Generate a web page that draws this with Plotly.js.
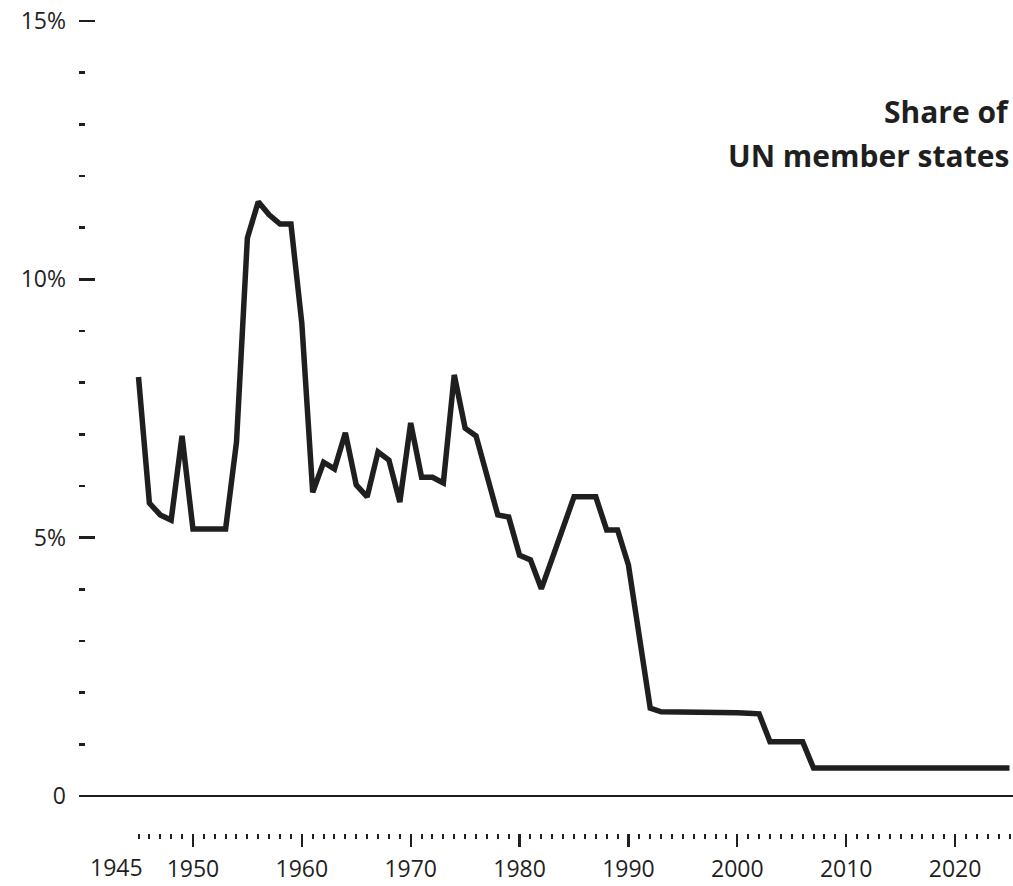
<!DOCTYPE html>
<html>
<head>
<meta charset="utf-8">
<script src="https://cdn.plot.ly/plotly-3.0.1.min.js"></script>
<style>
  html, body { margin: 0; padding: 0; background: #ffffff; }
  #chart { width: 1013px; height: 886px; }
</style>
</head>
<body>
<div id="chart"></div>
<script>
// Years and share (%) of UN member states
const years = [
  1945, 1946, 1947, 1948, 1949, 1950, 1951, 1952, 1953, 1954,
  1955, 1956, 1957, 1958, 1959, 1960, 1961, 1962, 1963, 1964,
  1965, 1966, 1967, 1968, 1969, 1970, 1971, 1972, 1973, 1974,
  1975, 1976, 1977, 1978, 1979, 1980, 1981, 1982, 1983, 1984,
  1985, 1986, 1987, 1988, 1989, 1990, 1991, 1992, 1993, 1994,
  1995, 1996, 1997, 1998, 1999, 2000, 2001, 2002, 2003, 2004,
  2005, 2006, 2007, 2008, 2009, 2010, 2011, 2012, 2013, 2014,
  2015, 2016, 2017, 2018, 2019, 2020, 2021, 2022, 2023, 2024,
  2025
];
const sharePct = [
  8.11, 5.67, 5.44, 5.34, 6.97, 5.17, 5.17, 5.17, 5.17, 6.85,
  10.80, 11.50, 11.25, 11.07, 11.07, 9.15, 5.88, 6.46, 6.33, 7.03,
  6.02, 5.79, 6.66, 6.50, 5.69, 7.22, 6.17, 6.17, 6.06, 8.15,
  7.12, 6.97, 6.19, 5.44, 5.40, 4.66, 4.57, 4.01, 4.60, 5.20,
  5.79, 5.79, 5.79, 5.15, 5.15, 4.47, 3.08, 1.70, 1.63, 1.63,
  1.63, 1.63, 1.63, 1.63, 1.62, 1.61, 1.60, 1.59, 1.05, 1.05,
  1.05, 1.05, 0.54, 0.54, 0.54, 0.54, 0.54, 0.54, 0.54, 0.54,
  0.54, 0.54, 0.54, 0.54, 0.54, 0.54, 0.54, 0.54, 0.54, 0.54,
  0.54
];

// Axis ticks
const xTickVals = [1945, 1950, 1960, 1970, 1980, 1990, 2000, 2010, 2020];
const xTickText = ['', '1950', '1960', '1970', '1980', '1990', '2000', '2010', '2020'];
const firstYearLabel = '1945';
const yTickVals = [0, 5, 10, 15];
const yTickText = ['0', '5%', '10%', '15%'];
const yMinorVals = [1, 2, 3, 4, 6, 7, 8, 9, 11, 12, 13, 14];
const titleLines = ['Share of', 'UN member states'];

const ink = '#1f1f1f';
const font = 'Open Sans, Noto Sans, sans-serif';
const tickSize = 23;

const trace = {
  x: years,
  y: sharePct,
  type: 'scatter',
  mode: 'lines',
  line: { color: ink, width: 5.5 },
  hoverinfo: 'skip'
};

const layout = {
  width: 1013,
  height: 886,
  margin: { l: 79, r: 0, t: 19, b: 53 },
  paper_bgcolor: '#ffffff',
  plot_bgcolor: '#ffffff',
  showlegend: false,
  font: { family: font, color: ink, size: tickSize },
  xaxis: {
    range: [1939.535, 2025.32],
    showgrid: false,
    zeroline: false,
    showline: false,
    tickmode: 'array',
    tickvals: xTickVals,
    ticktext: xTickText,
    ticks: 'outside',
    ticklen: 13,
    tickwidth: 2.2,
    tickcolor: ink,
    ticklabelstandoff: 2,
    tickfont: { family: font, size: tickSize, color: ink },
    minor: { ticks: 'outside', tickmode: 'array', tickvals: years, ticklen: 5, tickwidth: 2, tickcolor: ink, showgrid: false }
  },
  yaxis: {
    range: [-0.716, 15.0387],
    showgrid: false,
    showline: false,
    zeroline: true,
    zerolinecolor: ink,
    zerolinewidth: 2,
    tickmode: 'array',
    tickvals: yTickVals,
    ticktext: yTickText,
    ticks: 'inside',
    ticklen: 16,
    tickwidth: 2.5,
    tickcolor: ink,
    ticklabelstandoff: 12,
    tickfont: { family: font, size: tickSize, color: ink },
    minor: { ticks: 'inside', tickmode: 'array', tickvals: yMinorVals, ticklen: 6, tickwidth: 2.5, tickcolor: ink, showgrid: false }
  },
  annotations: [
    {
      x: 1942.98, xref: 'x',
      y: 0, yref: 'paper',
      text: firstYearLabel,
      showarrow: false,
      xanchor: 'center', yanchor: 'middle',
      font: { family: font, size: tickSize, color: ink }
    },
    {
      x: (1011 - 79) / 934, xref: 'paper',
      y: 0, yref: 'paper',
      text: '<b>' + titleLines[0] + '</b>',
      showarrow: false,
      xanchor: 'right', yanchor: 'middle', align: 'right',
      font: { family: font, size: 30, color: ink }
    },
    {
      x: (1011 - 79) / 934, xref: 'paper',
      y: 0, yref: 'paper',
      text: '<b>' + titleLines[1] + '</b>',
      showarrow: false,
      xanchor: 'right', yanchor: 'middle', align: 'right',
      font: { family: font, size: 30, color: ink }
    }
  ]
};
// convert pixel rows (from top) to paper coords: plot top 19, bottom 833
function paperY(px) { return (833 - px) / 814; }
layout.annotations[0].y = paperY(867);
layout.annotations[1].y = paperY(112);
layout.annotations[2].y = paperY(155);

Plotly.newPlot('chart', [trace], layout, { displayModeBar: false, staticPlot: true });
</script>
</body>
</html>
